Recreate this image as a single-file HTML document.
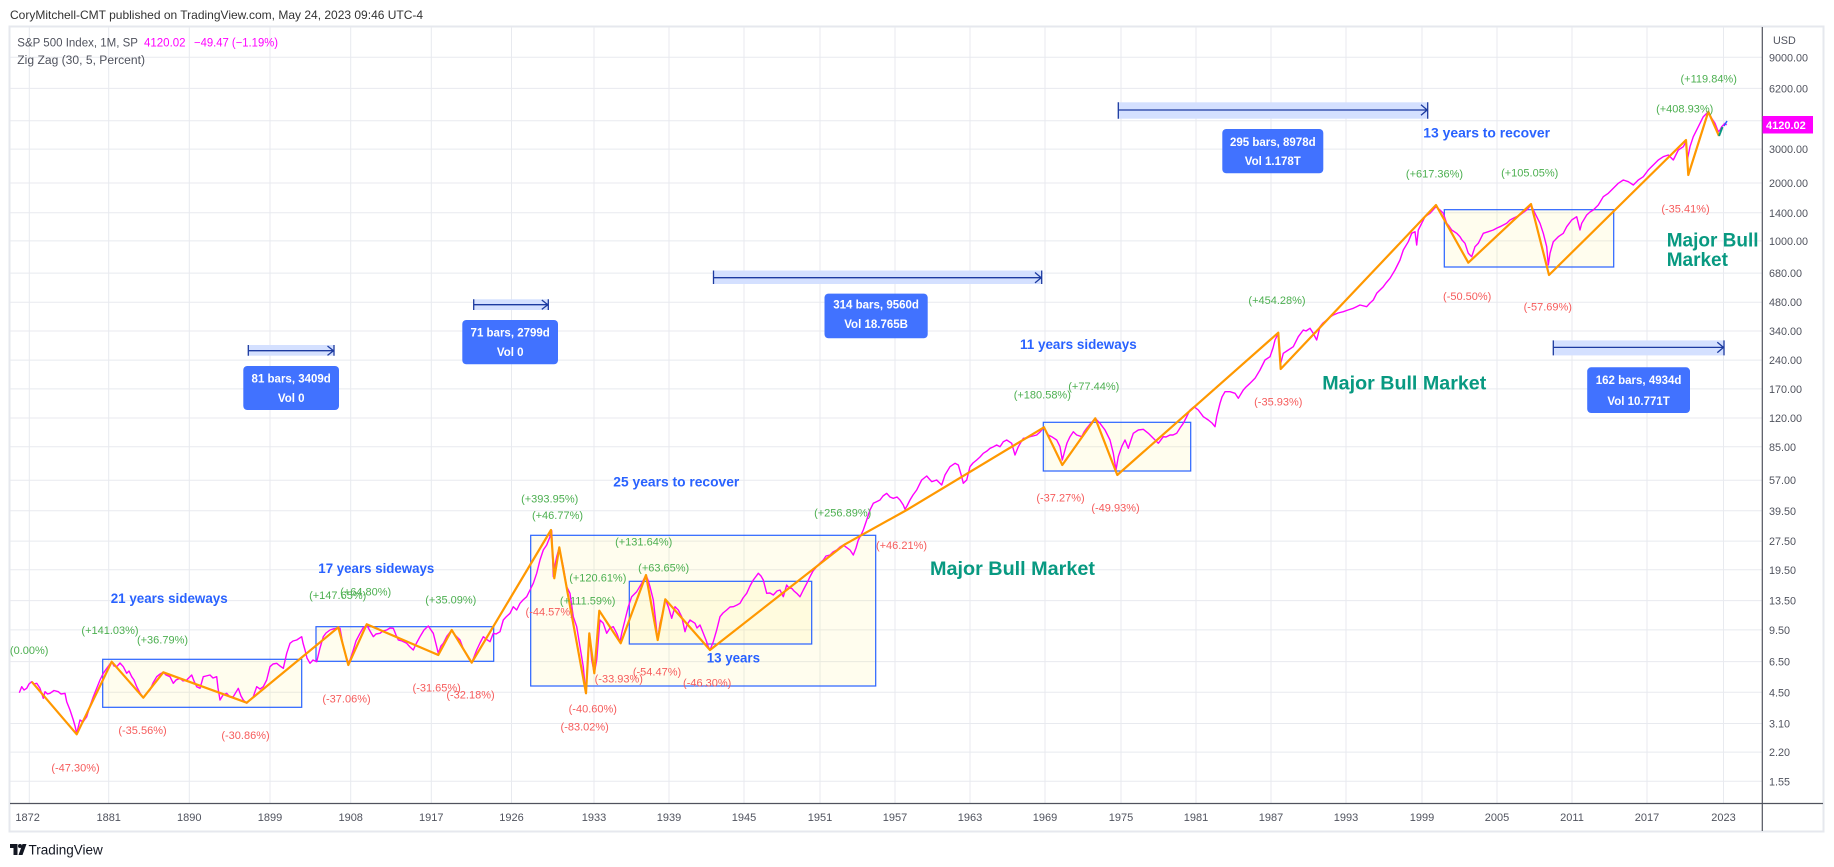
<!DOCTYPE html>
<html>
<head>
<meta charset="utf-8">
<style>
html,body{margin:0;padding:0;background:#fff;}
svg{display:block;font-family:"Liberation Sans",Arial,sans-serif;}
.g{stroke:#e8eaef;stroke-width:1;}
.pl{font-size:10.8px;fill:#50535e;}
.yl{font-size:11px;fill:#50535e;text-anchor:middle;}
.gr{font-size:11px;fill:#4caf50;text-anchor:middle;}
.rd{font-size:11px;fill:#f65b5b;text-anchor:middle;}
.bl{font-size:13.5px;font-weight:bold;fill:#2962ff;}
.tl{font-size:19px;font-weight:bold;fill:#089981;}
.bx{font-size:11.5px;font-weight:bold;fill:#fff;text-anchor:middle;}
.band{fill:#d4e0ff;}
.dl{stroke:#1c3aa0;stroke-width:1.3;fill:none;}
</style>
</head>
<body>
<svg width="1834" height="867" viewBox="0 0 1834 867" xmlns="http://www.w3.org/2000/svg">
<defs>
<clipPath id="pane"><rect x="10" y="27" width="1752" height="776"/></clipPath>
</defs>

<!-- header -->
<text x="10" y="19" font-size="12" fill="#333">CoryMitchell-CMT published on TradingView.com, May 24, 2023 09:46 UTC-4</text>

<!-- frame -->
<rect x="9.5" y="26.5" width="1814" height="805" fill="#fff" stroke="#e6e8ee" stroke-width="2"/>

<!-- grid -->
<g class="g">
<line x1="29.3" y1="27" x2="29.3" y2="803"/>
<line x1="108.7" y1="27" x2="108.7" y2="803"/>
<line x1="189.3" y1="27" x2="189.3" y2="803"/>
<line x1="270" y1="27" x2="270" y2="803"/>
<line x1="350.7" y1="27" x2="350.7" y2="803"/>
<line x1="431.3" y1="27" x2="431.3" y2="803"/>
<line x1="511.5" y1="27" x2="511.5" y2="803"/>
<line x1="594" y1="27" x2="594" y2="803"/>
<line x1="669" y1="27" x2="669" y2="803"/>
<line x1="744" y1="27" x2="744" y2="803"/>
<line x1="820" y1="27" x2="820" y2="803"/>
<line x1="895" y1="27" x2="895" y2="803"/>
<line x1="970" y1="27" x2="970" y2="803"/>
<line x1="1045" y1="27" x2="1045" y2="803"/>
<line x1="1121" y1="27" x2="1121" y2="803"/>
<line x1="1196" y1="27" x2="1196" y2="803"/>
<line x1="1271" y1="27" x2="1271" y2="803"/>
<line x1="1346" y1="27" x2="1346" y2="803"/>
<line x1="1422" y1="27" x2="1422" y2="803"/>
<line x1="1497" y1="27" x2="1497" y2="803"/>
<line x1="1572" y1="27" x2="1572" y2="803"/>
<line x1="1647" y1="27" x2="1647" y2="803"/>
<line x1="1723.5" y1="27" x2="1723.5" y2="803"/>

<line x1="10" y1="57.3" x2="1762" y2="57.3"/>
<line x1="10" y1="88.4" x2="1762" y2="88.4"/>
<line x1="10" y1="120.7" x2="1762" y2="120.7"/>
<line x1="10" y1="149.1" x2="1762" y2="149.1"/>
<line x1="10" y1="183" x2="1762" y2="183"/>
<line x1="10" y1="212.8" x2="1762" y2="212.8"/>
<line x1="10" y1="240.9" x2="1762" y2="240.9"/>
<line x1="10" y1="273.1" x2="1762" y2="273.1"/>
<line x1="10" y1="302.2" x2="1762" y2="302.2"/>
<line x1="10" y1="331" x2="1762" y2="331"/>
<line x1="10" y1="360.1" x2="1762" y2="360.1"/>
<line x1="10" y1="388.9" x2="1762" y2="388.9"/>
<line x1="10" y1="418" x2="1762" y2="418"/>
<line x1="10" y1="446.8" x2="1762" y2="446.8"/>
<line x1="10" y1="480.2" x2="1762" y2="480.2"/>
<line x1="10" y1="510.8" x2="1762" y2="510.8"/>
<line x1="10" y1="541.1" x2="1762" y2="541.1"/>
<line x1="10" y1="569.8" x2="1762" y2="569.8"/>
<line x1="10" y1="600.6" x2="1762" y2="600.6"/>
<line x1="10" y1="629.9" x2="1762" y2="629.9"/>
<line x1="10" y1="661.6" x2="1762" y2="661.6"/>
<line x1="10" y1="692.3" x2="1762" y2="692.3"/>
<line x1="10" y1="723.5" x2="1762" y2="723.5"/>
<line x1="10" y1="752.1" x2="1762" y2="752.1"/>
<line x1="10" y1="781.3" x2="1762" y2="781.3"/>
</g>

<!-- legend -->
<text x="17.3" y="46.5" font-size="11.5" fill="#50535e" textLength="120.7" lengthAdjust="spacingAndGlyphs">S&amp;P 500 Index, 1M, SP</text>
<text x="144" y="46.5" font-size="11.5" fill="#f0f">4120.02</text>
<text x="194" y="46.5" font-size="11.5" fill="#f0f" textLength="84" lengthAdjust="spacingAndGlyphs">−49.47 (−1.19%)</text>
<text x="17.3" y="64" font-size="11.5" fill="#50535e" textLength="127.7" lengthAdjust="spacingAndGlyphs">Zig Zag (30, 5, Percent)</text>

<g clip-path="url(#pane)">
<!-- boxes -->
<g stroke="#2962ff" stroke-width="1.2" fill="rgba(255,232,90,0.10)">
<rect x="102.7" y="659.3" width="199" height="48"/>
<rect x="316" y="626.7" width="177.7" height="34.6"/>
<rect x="530.7" y="535.3" width="345" height="150.7"/>
<rect x="629.3" y="581.3" width="182.4" height="62.7"/>
<rect x="1043.3" y="422.3" width="147.4" height="48.7"/>
<rect x="1444.3" y="209.7" width="169.4" height="57.3"/>
</g>

<!-- date range tools -->
<rect class="band" x="248.3" y="345" width="85.7" height="10.7"/>
<path class="dl" d="M248.3 350.7H334M248.3 345V355.7M334 345V355.7M327.5 346L333.5 350.7L327.5 355.4"/>
<rect x="243.3" y="366" width="95.7" height="44" rx="4" fill="#4172ff"/>
<text class="bx" x="291.2" y="382.5">81 bars, 3409d</text>
<text class="bx" x="291.2" y="402">Vol 0</text>

<rect class="band" x="473.7" y="299.3" width="74.6" height="10.7"/>
<path class="dl" d="M473.7 304.7H548.3M473.7 299.3V310M548.3 299.3V310M541.8 300L547.8 304.7L541.8 309.4"/>
<rect x="462.3" y="320" width="95.7" height="44.3" rx="4" fill="#4172ff"/>
<text class="bx" x="510.2" y="336.5">71 bars, 2799d</text>
<text class="bx" x="510.2" y="356">Vol 0</text>

<rect class="band" x="713.5" y="270.5" width="328.2" height="13.5"/>
<path class="dl" d="M713.5 277.7H1041.7M713.5 270.5V284M1041.7 270.5V284M1035 272.5L1041.2 277.7L1035 282.9"/>
<rect x="824.5" y="293.6" width="103.2" height="44.7" rx="4" fill="#4172ff"/>
<text class="bx" x="876.1" y="308.5">314 bars, 9560d</text>
<text class="bx" x="876.1" y="328">Vol 18.765B</text>

<rect class="band" x="1118.3" y="102.3" width="309.4" height="16.4"/>
<path class="dl" d="M1118.3 110H1427.7M1118.3 102.3V118.7M1427.7 102.3V118.7M1421 104.8L1427.2 110L1421 115.2"/>
<rect x="1222.3" y="129" width="101" height="44.3" rx="4" fill="#4172ff"/>
<text class="bx" x="1272.8" y="145.8">295 bars, 8978d</text>
<text class="bx" x="1272.8" y="165.2">Vol 1.178T</text>

<rect class="band" x="1553.3" y="340.4" width="170.7" height="15"/>
<path class="dl" d="M1553.3 347.4H1724M1553.3 340.4V355.4M1724 340.4V355.4M1717.3 342.2L1723.5 347.4L1717.3 352.6"/>
<rect x="1587.2" y="367.3" width="102.8" height="45.7" rx="4" fill="#4172ff"/>
<text class="bx" x="1638.6" y="384.2">162 bars, 4934d</text>
<text class="bx" x="1638.6" y="405">Vol 10.771T</text>

<!-- price line -->
<polyline fill="none" stroke="#f0f" stroke-width="1.4" stroke-linejoin="round" points="
19.3,692.7 21.7,686.7 24,690 26.7,688.3 29,684 31.7,681.7 34,684 36.7,683.3 40,688.3 43.3,698.3 45,691.7 47.5,694 50,693.3 54,690.5 58.3,691.7 61,694 65,693.3 66.7,701.7 70,710 73.3,720 75,726 76.7,733.3 78,728 80,720 83,722 86.7,716.7 90,706 93.3,696.7 96,690 100,680 103.3,673.3 107,668 111.7,661.7 114,666 116.7,666.7 120,663 123.3,666.7 126.7,673.3 129,671 131.7,676.7 134,680 136.7,686.7 140,693 143.3,697.7 146,694 150,690 153,683 156.7,676.7 160,674 163.3,672.3 166,675 170,676.7 173.3,683.3 176,680 180,678.3 183,681 186.7,680 191.7,675 194,681 196.7,686.7 200,688.3 203.3,676.7 206,676 210,675 213,678 216.7,676.7 218,688 220,700 223,695 226.7,693.3 230,697 233.3,696.7 238.3,688.3 241,696 243.3,700 246.7,703.3 250,700 253.3,696.7 256.7,686.7 260,689 263.3,686.7 266.7,680 270,666.7 273,664 276.7,663.3 280,666 283.3,668.3 286.7,653.3 290,643.3 293,641 296.7,640 301.7,636.7 303,643 305,650 307,658 310,663.3 313,660 316.7,661.7 320,648 323.3,636.7 326,633 330,630 333,629 336.7,628.3 340,628.3 343.3,646.7 346,656 348.3,663.3 350,660 353.3,650 356,641 360,633.3 363,628 366.7,625 370,631 373.3,636.7 376,634 380,633.3 383,631 386.7,630 390,628 393.3,628.3 396,635 398.3,640 402,641 406.7,643.3 410,647 413.3,650 416,644 420,636.7 424,630 428.3,626 431,630 433.3,633.3 436,644 438.3,653.3 441,646 443.3,643.3 447,636 451.7,630 455,635 460,640 463,648 466.7,655 469,659 471.7,662.7 474,657 476.7,650 480,643 483.3,636.7 486,639 490,641.7 493.3,633.3 496,634 500,631.7 503.3,620 506,617 510,613.3 513.3,606.7 516.7,610 520,603.3 523,600 526.7,596.7 530,590 533.3,583.3 536.7,573.3 540,560 543.3,550 546.7,545 550,536.7 551.7,530.7 553.3,576.7 555,565 556.7,556.7 559.3,547.3 561,556 563.3,566.7 566.7,586.7 570,593.3 573.3,616.7 576.7,626.7 580,646.7 583.3,666.7 585.7,693.3 587.3,666.7 589.3,633.3 591.7,660 594.3,673.3 596.7,660 600,620 603.3,623.3 606.7,633.3 610,628 613.3,626.7 617,634 620,641.7 622,632 625,620 628.3,606.7 631.7,596.7 636.7,591.7 641.7,583.3 646,575 648,580 650,586.7 653.3,600 655,615 657.7,640 660,623.3 663.3,610 665.3,599.3 668.3,606.7 671.7,618.3 675,606.7 678.3,610 681.7,616.7 685,631.7 687,625 690,620 695,623.3 697,628 700,625 703.3,633.3 706,640 708.3,646.7 710,650 713.3,641.7 716.7,630 720,616.7 723,613 726.7,610 730,607 733.3,606.7 737,605 740,603.3 743,598 746.7,593.3 750,586 753.3,580 758.3,573.3 761,576 763.3,580 766.7,593.3 770,593 773.3,595 777,591 780,590 783.3,596.7 786.7,585 789,588 791.7,588.3 794,591 796.7,593.3 800,596.7 803.3,590 807,583 810,576.7 813,571 816.7,566.7 820,563 823.3,560 826,556 830,555 833,552 836.7,550 840,547 843.3,545 846,547 850,550 853.3,555 856,548 858.3,540 861,535 863.3,530 866.7,520 870,510 873.3,503.3 876,502 880,500 883,496 886.7,493.3 890,497 893.3,498.3 897,497 900,500 903.3,505 905,509.3 907,506 910,500 913,495 916.7,490 920,483.3 921.7,480 926.7,476 931.7,481.7 936.7,480 941.7,485 945,475 950,466.7 955,463.3 958.3,465 961.7,476.7 963.3,483.3 966.7,480 970,466.7 973,463 976.7,460 980,457 983.3,453.3 987,451 990,448.3 993,447 996.7,445 1000,446.7 1003.3,441.7 1006.7,440 1011.7,443.3 1015,455 1018.3,446.7 1023.3,438.3 1027,438 1030,436.7 1033,436 1036.7,435 1040,432 1044,427.3 1046,431 1048.3,435 1051.7,436.7 1056.7,440 1060,446.7 1062.3,460 1065,450 1067,443 1070,436.7 1073.3,431.7 1076.7,435 1081.7,436.7 1084,432 1086.7,428.3 1091,423 1095.3,418.3 1100,423.3 1105,430 1110,440 1113.3,453.3 1116,470 1118.3,456.7 1121.7,446.7 1125,440 1128.3,448.3 1131,440 1133.3,433.3 1138.3,430 1143.3,429.3 1148.3,433.3 1153.3,438.3 1158.3,443.3 1163.3,436.7 1166,437 1170,435 1173,435 1176.7,433.3 1180,428 1183.3,423.3 1187,416 1190,410 1194,406.7 1198.3,410 1203.3,416.7 1208.3,420 1212,423 1215,426.7 1216.7,416.7 1220,403.3 1222,397 1225,391.7 1230,391.7 1235,393.3 1238.3,398.3 1243.3,390 1246,387 1250,383.3 1255,378.3 1260,370 1265,360 1270,356.7 1273,348 1275,340 1278.3,333.3 1280.7,363.3 1283.3,353.3 1288.3,350 1293.3,346.7 1298.3,336.7 1303.3,330 1306,331 1310,328.3 1313,333 1316.7,340 1320,326.7 1323,323 1326.7,320 1330,317 1333.3,315 1338,313 1343.3,311.7 1348,310 1353.3,308.3 1356,307 1360,305 1366.7,306.7 1370,303 1373.3,300 1376.7,293.3 1383.3,286.7 1386,283 1390,278.3 1395,270 1400,260 1403.3,250 1408.3,241.7 1411.7,233.3 1415,231.7 1416.7,245 1418.3,230 1421.7,223.3 1425,216.7 1430,213.3 1433,210 1436,206.7 1440,210 1443.3,213.3 1446.7,223.3 1449,226 1451.7,230 1456.7,233.3 1460,236.7 1462,240 1465,243.3 1468.3,253.3 1471.7,256.7 1475,246.7 1478.3,243.3 1483.3,233.3 1488.3,231.7 1493.3,230 1497,228 1500,226.7 1506.7,223.3 1510,220 1513.3,218.3 1520,215 1526.7,210 1531,205 1535,213.3 1540,223.3 1543.3,233.3 1546.7,246.7 1548.3,265 1550,253.3 1553.3,241.7 1558.3,236.7 1563.3,233.3 1566.7,226.7 1571.7,220 1576.7,216.7 1580,230 1581.7,223.3 1586.7,215 1590,212 1593.3,210 1598.3,205 1603.3,196.7 1608.3,193.3 1613.3,188.3 1618.3,183.3 1623.3,180 1628.3,181.7 1633.3,185 1638.3,180 1643.3,176.7 1648.3,170 1653.3,165 1658.3,160 1663.3,156.7 1668.3,155 1673.3,160 1678.3,150 1683.3,146.7 1686,141.7 1687.3,160 1690,146.7 1693.3,136.7 1698.3,126.7 1703.3,116.7 1708.3,111.7 1711.7,118.3 1715,123.3 1718.3,131.7 1720,130 1721.7,126.7 1725,123.3 1726.7,125"/>

<!-- zigzag -->
<polyline fill="none" stroke="#ff9800" stroke-width="2.2" stroke-linejoin="round" points="31.7,681.7 76.7,734.3 111.7,661.7 143.3,697.7 163.3,672.3 246.7,702.7 338.3,627.3 348.3,665 366.7,624.3 438.3,655 451.7,630 471.7,662.7 551,530 554.3,578.3 559.3,547.3 586,693.3 589.3,633.3 594.3,673.3 599.3,610.7 620.7,643.3 646,575 657.7,640 665.3,599.3 710,650 845,544.3 906.7,510 1044,427.3 1062.3,465 1095.3,418.3 1117.3,475 1278.3,332.7 1280.7,369 1436,205 1468.3,262.7 1531,204 1549,275 1686,140 1688.3,175 1708.3,111.7 1719,136"/>
<polyline fill="none" stroke="#089981" stroke-width="2" points="1719,136 1722.5,127"/>
<polyline fill="none" stroke="#2962ff" stroke-width="1.5" points="1724,126 1727,121"/>

<!-- percent labels green -->
<text class="gr" x="29.2" y="654">(0.00%)</text>
<text class="gr" x="110" y="634">(+141.03%)</text>
<text class="gr" x="162.5" y="643.3">(+36.79%)</text>
<text class="gr" x="337.7" y="599">(+147.65%)</text>
<text class="gr" x="365.7" y="595.7">(+64.80%)</text>
<text class="gr" x="450.8" y="603.3">(+35.09%)</text>
<text class="gr" x="549.7" y="502.3">(+393.95%)</text>
<text class="gr" x="557.5" y="519">(+46.77%)</text>
<text class="gr" x="643.7" y="545.7">(+131.64%)</text>
<text class="gr" x="663.7" y="571.3">(+63.65%)</text>
<text class="gr" x="597.8" y="581.3">(+120.61%)</text>
<text class="gr" x="587.7" y="604.7">(+111.59%)</text>
<text class="gr" x="842.7" y="516.7">(+256.89%)</text>
<text class="gr" x="1042.3" y="398.3">(+180.58%)</text>
<text class="gr" x="1093.8" y="390">(+77.44%)</text>
<text class="gr" x="1277" y="304">(+454.28%)</text>
<text class="gr" x="1434.5" y="177.3">(+617.36%)</text>
<text class="gr" x="1529.7" y="176.7">(+105.05%)</text>
<text class="gr" x="1684.7" y="112.3">(+408.93%)</text>
<text class="gr" x="1708.7" y="82.3">(+119.84%)</text>

<!-- percent labels red -->
<text class="rd" x="75.5" y="771.7">(-47.30%)</text>
<text class="rd" x="142.5" y="734">(-35.56%)</text>
<text class="rd" x="245.5" y="739">(-30.86%)</text>
<text class="rd" x="346.5" y="702.3">(-37.06%)</text>
<text class="rd" x="436.7" y="691.7">(-31.65%)</text>
<text class="rd" x="470.5" y="698.3">(-32.18%)</text>
<text class="rd" x="549.7" y="615.7">(-44.57%)</text>
<text class="rd" x="592.8" y="712.3">(-40.60%)</text>
<text class="rd" x="584.7" y="730.7">(-83.02%)</text>
<text class="rd" x="618.8" y="682.3">(-33.93%)</text>
<text class="rd" x="657" y="675.7">(-54.47%)</text>
<text class="rd" x="707.2" y="686.7">(-46.30%)</text>
<text class="rd" x="901.5" y="549">(+46.21%)</text>
<text class="rd" x="1060.5" y="501.3">(-37.27%)</text>
<text class="rd" x="1115.5" y="511.7">(-49.93%)</text>
<text class="rd" x="1278.3" y="405.7">(-35.93%)</text>
<text class="rd" x="1467.2" y="300">(-50.50%)</text>
<text class="rd" x="1547.8" y="310.7">(-57.69%)</text>
<text class="rd" x="1685.5" y="212.3">(-35.41%)</text>

<!-- blue annotations -->
<text class="bl" x="110.7" y="603" textLength="117" lengthAdjust="spacingAndGlyphs">21 years sideways</text>
<text class="bl" x="318.3" y="573" textLength="116" lengthAdjust="spacingAndGlyphs">17 years sideways</text>
<text class="bl" x="613.3" y="486.5" textLength="126" lengthAdjust="spacingAndGlyphs">25 years to recover</text>
<text class="bl" x="706.7" y="662.5" textLength="53.3" lengthAdjust="spacingAndGlyphs">13 years</text>
<text class="bl" x="1020" y="349" textLength="116.7" lengthAdjust="spacingAndGlyphs">11 years sideways</text>
<text class="bl" x="1423.3" y="137.5" textLength="126.7" lengthAdjust="spacingAndGlyphs">13 years to recover</text>

<!-- teal annotations -->
<text class="tl" x="930" y="575" textLength="165" lengthAdjust="spacingAndGlyphs">Major Bull Market</text>
<text class="tl" x="1322.3" y="389.3" textLength="164" lengthAdjust="spacingAndGlyphs">Major Bull Market</text>
<text class="tl" x="1666.7" y="246.5">Major Bull</text>
<text class="tl" x="1666.7" y="266">Market</text>
</g>

<!-- axes lines -->
<line x1="1762.3" y1="27" x2="1762.3" y2="831" stroke="#50535e" stroke-width="1.2"/>
<line x1="10" y1="803.5" x2="1823" y2="803.5" stroke="#50535e" stroke-width="1.2"/>

<!-- price axis labels -->
<text class="pl" x="1773" y="44">USD</text>
<text class="pl" x="1769" y="61.3">9000.00</text>
<text class="pl" x="1769" y="92.4">6200.00</text>
<text class="pl" x="1769" y="153.1">3000.00</text>
<text class="pl" x="1769" y="187">2000.00</text>
<text class="pl" x="1769" y="216.8">1400.00</text>
<text class="pl" x="1769" y="244.9">1000.00</text>
<text class="pl" x="1769" y="277.1">680.00</text>
<text class="pl" x="1769" y="306.2">480.00</text>
<text class="pl" x="1769" y="335">340.00</text>
<text class="pl" x="1769" y="364.1">240.00</text>
<text class="pl" x="1769" y="392.9">170.00</text>
<text class="pl" x="1769" y="422">120.00</text>
<text class="pl" x="1769" y="450.8">85.00</text>
<text class="pl" x="1769" y="484.2">57.00</text>
<text class="pl" x="1769" y="514.8">39.50</text>
<text class="pl" x="1769" y="545.1">27.50</text>
<text class="pl" x="1769" y="573.8">19.50</text>
<text class="pl" x="1769" y="604.6">13.50</text>
<text class="pl" x="1769" y="633.9">9.50</text>
<text class="pl" x="1769" y="665.6">6.50</text>
<text class="pl" x="1769" y="696.3">4.50</text>
<text class="pl" x="1769" y="727.5">3.10</text>
<text class="pl" x="1769" y="756.1">2.20</text>
<text class="pl" x="1769" y="785.3">1.55</text>

<!-- last price tag -->
<rect x="1762.5" y="116" width="50.5" height="17.5" fill="#f0f"/>
<text x="1766" y="128.8" font-size="11" font-weight="bold" fill="#fff">4120.02</text>

<!-- time axis labels -->
<text class="yl" x="27.6" y="821">1872</text>
<text class="yl" x="108.7" y="821">1881</text>
<text class="yl" x="189.3" y="821">1890</text>
<text class="yl" x="270" y="821">1899</text>
<text class="yl" x="350.7" y="821">1908</text>
<text class="yl" x="431.3" y="821">1917</text>
<text class="yl" x="511.5" y="821">1926</text>
<text class="yl" x="594" y="821">1933</text>
<text class="yl" x="669" y="821">1939</text>
<text class="yl" x="744" y="821">1945</text>
<text class="yl" x="820" y="821">1951</text>
<text class="yl" x="895" y="821">1957</text>
<text class="yl" x="970" y="821">1963</text>
<text class="yl" x="1045" y="821">1969</text>
<text class="yl" x="1121" y="821">1975</text>
<text class="yl" x="1196" y="821">1981</text>
<text class="yl" x="1271" y="821">1987</text>
<text class="yl" x="1346" y="821">1993</text>
<text class="yl" x="1422" y="821">1999</text>
<text class="yl" x="1497" y="821">2005</text>
<text class="yl" x="1572" y="821">2011</text>
<text class="yl" x="1647" y="821">2017</text>
<text class="yl" x="1723.5" y="821">2023</text>

<!-- TradingView logo -->
<g fill="#131722">
<rect x="10" y="844" width="7.5" height="4"/>
<rect x="13.5" y="844" width="4" height="11"/>
<circle cx="20" cy="846" r="2"/>
<polygon points="18.5,855 22.5,844 26.5,844 22.5,855"/>
</g>
<text x="28.5" y="854.5" font-size="13.5" fill="#131722">TradingView</text>
</svg>
</body>
</html>
